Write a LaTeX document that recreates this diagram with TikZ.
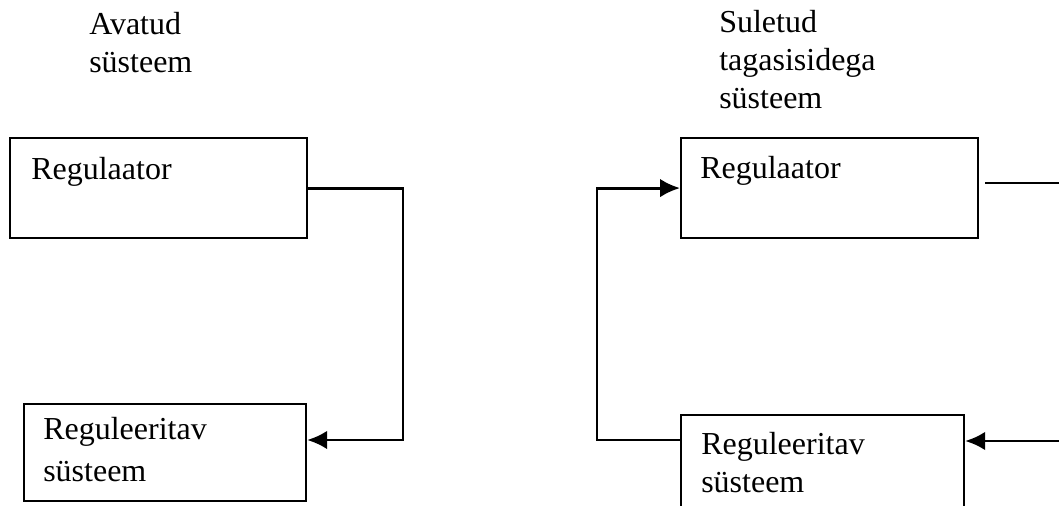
\documentclass[tikz,border=0pt]{standalone}
\usepackage{fontspec}
\setmainfont{Liberation Serif}
\usetikzlibrary{arrows.meta}
\tikzset{
  blok/.style={draw, line width=1.6pt, inner sep=0pt, anchor=north west},
  tekst/.style={anchor=base west, inner sep=0pt, align=left, font=\fontsize{24}{28.5}\selectfont},
  voog/.style={line width=2.2pt, -{Latex[length=15pt,width=14pt]}},
  joon/.style={line width=1.6pt}
}

\begin{document}
\begin{tikzpicture}[x=0.75pt,y=-0.75pt]
  \useasboundingbox (0,0) rectangle (1059,506);
  \clip (0,0) rectangle (1059,506);
  \node[tekst] (T1) at (89,73)   {Avatud\\süsteem};
  \node[tekst] (T2) at (719,109) {Suletud\\tagasisidega\\süsteem};
  \node[blok, minimum width=222.75pt, minimum height=75pt]   (R1) at (9,137)   {};
  \node[blok, minimum width=211.5pt,  minimum height=72.75pt] (S1) at (23,403)  {};
  \node[blok, minimum width=222.75pt, minimum height=75pt]   (R2) at (680,137) {};
  \node[blok, minimum width=212.25pt, minimum height=82.5pt] (S2) at (680,414) {};
  \node[tekst] (L1) at (31,180)  {Regulaator};
  \node[tekst, font=\fontsize{24}{31.5}\selectfont] (L2) at (43,481)  {Reguleeritav\\süsteem};
  \node[tekst] (L3) at (700,178) {Regulaator};
  \node[tekst, font=\fontsize{24}{28}\selectfont] (L4) at (701,492) {Reguleeritav\\süsteem};
  \coordinate (K1) at (403,440);
  \coordinate (K2) at (597,440);
  \coordinate (V1) at (1059,183);
  \coordinate (V2) at (1059,441);
  \draw[voog] (R1.east) -| (K1) -- (K1 -| S1.east);
  \draw[joon] ([xshift=4.5pt]R2.east |- V1) -- (V1);
  \draw[voog] (V2) -- (V2 -| S2.east);
  \draw[voog] (K2 -| S2.west) -- (K2) |- (R2.west);
\end{tikzpicture}
\end{document}
